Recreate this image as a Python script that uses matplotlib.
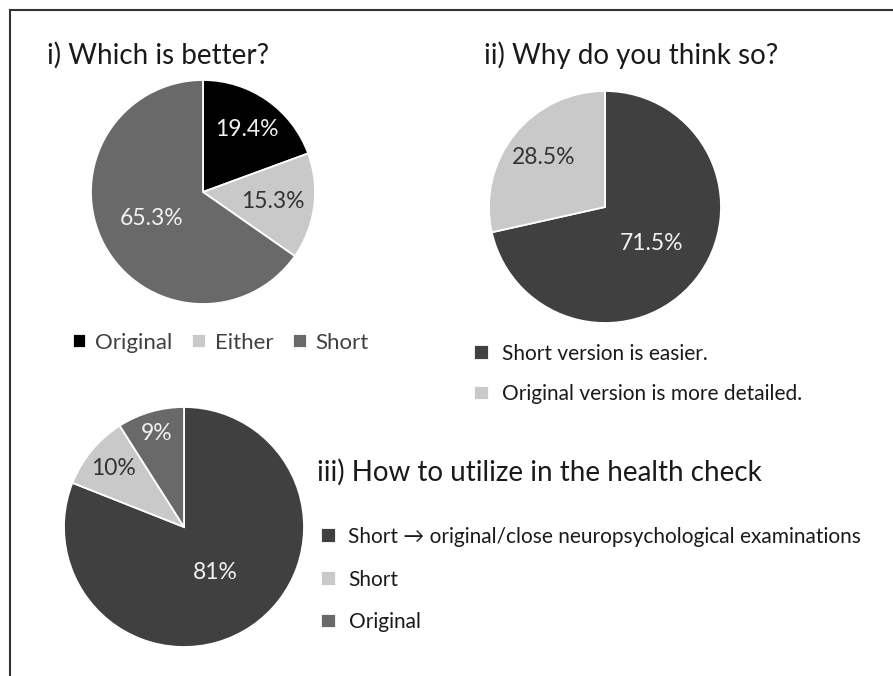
import numpy as np
import matplotlib
matplotlib.use("Agg")
from matplotlib import pyplot as plt
from matplotlib.lines import Line2D

plt.rcParams['font.family'] = ['Lato', 'DejaVu Sans']

# i) which version is better
better_labels = ['Original', 'Either', 'Short']
better_pct = [19.4, 15.3, 65.3]

# ii) reasons
why_labels = ['Short version is easier.', 'Original version is more detailed.']
why_pct = [71.5, 28.5]

# iii) use in the health check
use_labels = ['Short \u2192 original/close neuropsychological examinations', 'Short', 'Original']
use_pct = [81, 10, 9]

BLACK = '#000000'
LIGHT = '#c9c9c9'
MID = '#696969'
DARK = '#404040'

W, H = 893, 676
fig = plt.figure(figsize=(W / 100, H / 100), dpi=100)


def pie_axes(cx, cy, r):
    ax = fig.add_axes([(cx - r) / W, 1 - (cy + r) / H, 2 * r / W, 2 * r / H])
    return ax


def draw_pie(ax, vals, colors, fmt, txt_colors, dists):
    wedges, _, autotexts = ax.pie(vals, colors=colors, startangle=90, counterclock=False,
                                  radius=1, autopct=fmt,
                                  wedgeprops=dict(edgecolor='white', linewidth=1.3),
                                  textprops=dict(fontsize=16.5))
    ax.set_xlim(-1, 1)
    ax.set_ylim(-1, 1)
    ax.axis('off')
    # push each percentage along its wedge's mid-angle
    for w, t, c, d in zip(wedges, autotexts, txt_colors, dists):
        ang = np.deg2rad((w.theta1 + w.theta2) / 2)
        t.set_position((d * np.cos(ang), d * np.sin(ang)))
        t.set_color(c)
    return wedges


def px(x, y):
    return (x / W, 1 - y / H)


# frame lines on top and left
fig.add_artist(Line2D([10 / W, 1], [1 - 10 / H, 1 - 10 / H], color='#333333', lw=1.5))
fig.add_artist(Line2D([10 / W, 10 / W], [1 - 10 / H, 0], color='#333333', lw=1.5))

title_kw = dict(fontsize=20, color='#1a1a1a', va='center', ha='left')
leg_kw = dict(loc='upper left', frameon=False, fontsize=15, handlelength=0.7,
              handleheight=0.7, handletextpad=0.62, borderpad=0, borderaxespad=0,
              labelcolor='#1a1a1a')

# --- i)
fig.text(*px(47, 55), 'i) Which is better?', **title_kw)
ax1 = pie_axes(203, 192, 112)
w1 = draw_pie(ax1, better_pct, [BLACK, LIGHT, MID], lambda p: '%.1f%%' % p,
              ['#f2f2f2', '#333333', '#f2f2f2'], [0.68, 0.63, 0.52])
fig.legend(w1, better_labels, loc='center left', bbox_to_anchor=px(73, 343), ncol=3,
           frameon=False, fontsize=16, handlelength=0.6, handleheight=0.6,
           handletextpad=0.4, columnspacing=0.9, borderpad=0, borderaxespad=0,
           labelcolor='#404040')

# --- ii)
fig.text(*px(484, 55), 'ii) Why do you think so?', **title_kw)
ax2 = pie_axes(605, 207, 116)
w2 = draw_pie(ax2, why_pct, [DARK, LIGHT], lambda p: '%.1f%%' % p,
              ['#f2f2f2', '#333333'], [0.51, 0.68])
fig.legend(w2, why_labels, bbox_to_anchor=px(474, 344), labelspacing=0.97, **leg_kw)

# --- iii)
fig.text(*px(317, 472), 'iii) How to utilize in the health check', **title_kw)
ax3 = pie_axes(184, 527, 120)
w3 = draw_pie(ax3, use_pct, [DARK, LIGHT, MID], lambda p: '%.0f%%' % p,
              ['#f2f2f2', '#333333', '#f2f2f2'], [0.46, 0.76, 0.81])
fig.legend(w3, use_labels, bbox_to_anchor=px(321, 527), labelspacing=1.09, **leg_kw)

fig.savefig('out.png', dpi=100)
